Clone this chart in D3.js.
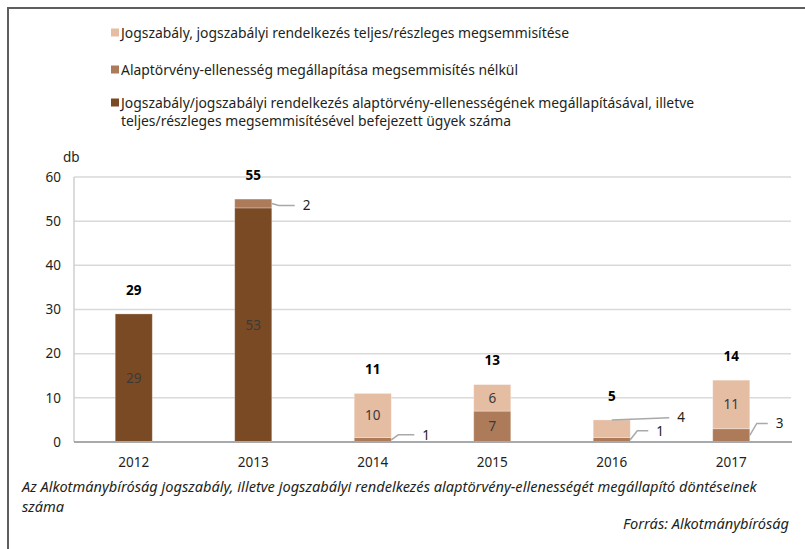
<!DOCTYPE html>
<html>
<head>
<meta charset="utf-8">
<script src="https://cdn.jsdelivr.net/npm/d3@7"></script>
<style>
  body { margin: 0; background: #fff; }
  svg { display: block; }
  .num { font-family: "Noto Sans", "DejaVu Sans", sans-serif; }
  .txt { font-family: "Noto Sans", "DejaVu Sans", sans-serif; }
</style>
</head>
<body>
<svg id="chart" width="805" height="549"></svg>
<script>
// data
var years = ["2012", "2013", "2014", "2015", "2016", "2017"];
var darkVals = [29, 53, 0, 0, 0, 0];   // befejezett ügyek
var midVals = [0, 2, 1, 7, 1, 3];      // megsemmisítés nélkül
var lightVals = [0, 0, 10, 6, 4, 11];  // megsemmisítése
var yTicks = [0, 10, 20, 30, 40, 50, 60];

var legendLabels = [
  ["Jogszabály, jogszabályi rendelkezés teljes/részleges megsemmisítése"],
  ["Alaptörvény-ellenesség megállapítása megsemmisítés nélkül"],
  ["Jogszabály/jogszabályi rendelkezés alaptörvény-ellenességének megállapításával, illetve",
   "teljes/részleges megsemmisítésével befejezett ügyek száma"]
];

var colors = { dark: "#7a4a24", mid: "#ad7b5a", light: "#e5bda2" };

// segments labelled outside the bar, with leader lines
var callouts = [
  { year: "2013", key: "mid", from: "right", lx: 31, ly: 2 },
  { year: "2014", key: "mid", from: "right", lx: 31, ly: -5 },
  { year: "2016", key: "light", from: "top", lx: 47, ly: -11 },
  { year: "2016", key: "mid", from: "right", lx: 26, ly: -9 },
  { year: "2017", key: "mid", from: "right", lx: 26, ly: -12 }
];

var rows = years.map(function(y, i) {
  return { year: y, dark: darkVals[i], mid: midVals[i], light: lightVals[i] };
});
var keys = ["dark", "mid", "light"];
var stack = d3.stack().keys(keys)(rows);

var svg = d3.select("#chart");

// frame
svg.append("path")
  .attr("d", "M8,549 L8,8 L805,8")
  .attr("fill", "none")
  .attr("stroke", "#5e5e5e")
  .attr("stroke-width", 2);

var x = d3.scaleBand().domain(years).range([74, 791])
  .paddingInner(0.69).paddingOuter(0.345);
var y = d3.scaleLinear().domain([0, 60]).range([442, 177]);

// grid
svg.append("g").selectAll("line")
  .data(yTicks.filter(function(d) { return d > 0; }))
  .join("line")
  .attr("x1", 74).attr("x2", 791)
  .attr("y1", function(d) { return y(d); })
  .attr("y2", function(d) { return y(d); })
  .attr("stroke", "#d9d9d9")
  .attr("stroke-width", 1.5);

svg.append("line")
  .attr("x1", 74).attr("x2", 74)
  .attr("y1", y(60)).attr("y2", y(0))
  .attr("stroke", "#cfcfcf").attr("stroke-width", 1.5);

// y tick labels
svg.append("g").selectAll("text")
  .data(yTicks)
  .join("text")
  .attr("class", "num")
  .attr("x", 61)
  .attr("y", function(d) { return y(d); })
  .attr("dy", "0.35em")
  .attr("text-anchor", "end")
  .attr("font-size", 13.5)
  .attr("fill", "#231f20")
  .text(function(d) { return d; });

svg.append("text")
  .attr("class", "num")
  .attr("x", 63).attr("y", 157)
  .attr("dy", "0.35em")
  .attr("font-size", 13.5)
  .attr("fill", "#231f20")
  .text("db");

// bars
var layers = svg.append("g").selectAll("g")
  .data(stack)
  .join("g")
  .attr("fill", function(s) { return colors[s.key]; });

layers.selectAll("rect")
  .data(function(s) { return s.map(function(d) { d.key = s.key; return d; }); })
  .join("rect")
  .attr("x", function(d) { return x(d.data.year); })
  .attr("width", x.bandwidth())
  .attr("y", function(d) { return y(d[1]); })
  .attr("height", function(d) { return y(d[0]) - y(d[1]); })
  .attr("stroke", "#ffffff")
  .attr("stroke-opacity", 0.35)
  .attr("stroke-width", 0.8);

// x axis line
svg.append("line")
  .attr("x1", 74).attr("x2", 792)
  .attr("y1", y(0)).attr("y2", y(0))
  .attr("stroke", "#a7a9ac").attr("stroke-width", 2);

// year labels
svg.append("g").selectAll("text")
  .data(years)
  .join("text")
  .attr("class", "num")
  .attr("x", function(d) { return x(d) + x.bandwidth() / 2; })
  .attr("y", 462)
  .attr("dy", "0.35em")
  .attr("text-anchor", "middle")
  .attr("font-size", 13.5)
  .attr("fill", "#231f20")
  .text(function(d) { return d; });

// inner value labels
var isCallout = function(d) {
  return callouts.some(function(c) { return c.year === d.data.year && c.key === d.key; });
};
var segs = [];
stack.forEach(function(s) {
  s.forEach(function(d) { if (d[1] - d[0] > 0) segs.push(d); });
});

svg.append("g").selectAll("text")
  .data(segs.filter(function(d) { return !isCallout(d); }))
  .join("text")
  .attr("class", "num")
  .attr("x", function(d) { return x(d.data.year) + x.bandwidth() / 2; })
  .attr("y", function(d) { return y((d[0] + d[1]) / 2); })
  .attr("dy", "0.35em")
  .attr("text-anchor", "middle")
  .attr("font-size", 13.5)
  .attr("fill", "#3a3a3a")
  .text(function(d) { return d[1] - d[0]; });

// callouts
callouts.forEach(function(c) {
  var s = stack.find(function(l) { return l.key === c.key; });
  var d = s[years.indexOf(c.year)];
  var x0, y0;
  if (c.from === "top") {
    x0 = x(c.year) + x.bandwidth() / 2;
    y0 = y(d[1]);
  } else {
    x0 = x(c.year) + x.bandwidth();
    y0 = y((d[0] + d[1]) / 2);
  }
  var lx = x(c.year) + x.bandwidth() + c.lx;
  var ly = y((d[0] + d[1]) / 2) + c.ly;
  var pts = c.from === "top"
    ? [[x0, y0], [lx - 8, ly]]
    : [[x0, y0], [x0 + 7, ly], [lx - 8, ly]];
  svg.append("path")
    .attr("d", d3.line()(pts))
    .attr("fill", "none")
    .attr("stroke", "#a7a9ac")
    .attr("stroke-width", 1.5);
  svg.append("text")
    .attr("class", "num")
    .attr("x", lx).attr("y", ly)
    .attr("dy", "0.35em")
    .attr("font-size", 13.5)
    .attr("fill", "#231f20")
    .text(d[1] - d[0]);
});

// totals
svg.append("g").selectAll("text")
  .data(rows)
  .join("text")
  .attr("class", "num")
  .attr("x", function(d) { return x(d.year) + x.bandwidth() / 2; })
  .attr("y", function(d) { return y(d.dark + d.mid + d.light) - 24; })
  .attr("dy", "0.35em")
  .attr("text-anchor", "middle")
  .attr("font-size", 13.5)
  .attr("font-weight", "bold")
  .attr("fill", "#000")
  .text(function(d) { return d.dark + d.mid + d.light; });

// legend
var legendColors = [colors.light, colors.mid, colors.dark];
var legendY = [33, 70, 103];
legendLabels.forEach(function(lines, i) {
  svg.append("rect")
    .attr("x", 111).attr("y", legendY[i] - 4.5)
    .attr("width", 8).attr("height", 8)
    .attr("fill", legendColors[i]);
  lines.forEach(function(t, j) {
    svg.append("text")
      .attr("class", "txt")
      .attr("x", 121).attr("y", legendY[i] + j * 18)
      .attr("dy", "0.35em")
      .attr("font-size", 13.9)
      .attr("fill", "#231f20")
      .text(t);
  });
});

// caption and source
var cap = svg.append("g")
  .attr("class", "txt")
  .attr("font-size", 14.6)
  .attr("font-style", "italic")
  .attr("fill", "#231f20");
cap.append("text")
  .attr("x", 22).attr("y", 487)
  .attr("dy", "0.35em")
  .text("Az Alkotmánybíróság jogszabály, illetve jogszabályi rendelkezés alaptörvény-ellenességét megállapító döntéseinek");
cap.append("text")
  .attr("x", 22).attr("y", 507)
  .attr("dy", "0.35em")
  .text("száma");
cap.append("text")
  .attr("x", 789).attr("y", 524)
  .attr("dy", "0.35em")
  .attr("text-anchor", "end")
  .text("Forrás: Alkotmánybíróság");
</script>
</body>
</html>
